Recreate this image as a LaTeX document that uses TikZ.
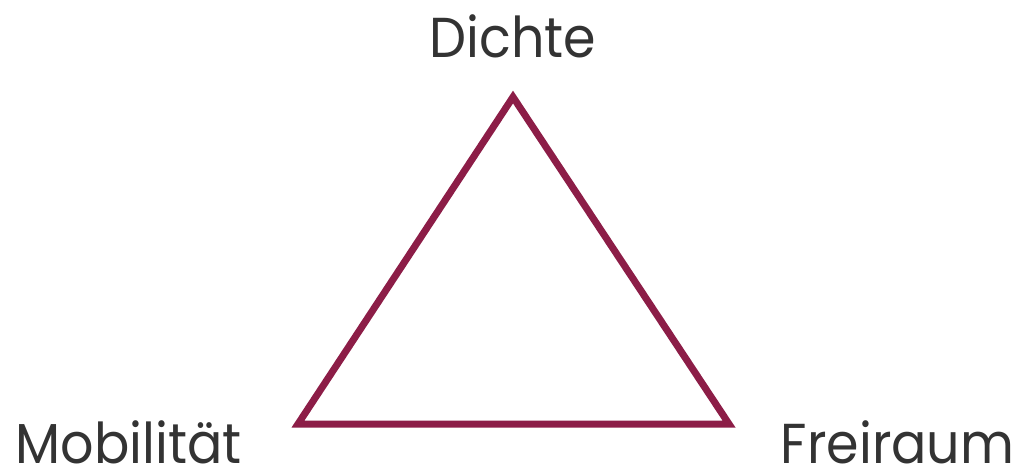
\documentclass[tikz,border=0pt]{standalone}
\usepackage{fontspec}
\setmainfont{Poppins}
\usetikzlibrary{positioning}
\definecolor{mymaroon}{HTML}{8C1D47}
\definecolor{mygray}{HTML}{333333}
\newcommand{\cornertext}[1]{\scalebox{0.93}[1]{#1}}
\tikzset{
	cornernode/.style={
			text=mygray,
			font=\fontsize{16}{19}\selectfont,
			inner sep=0pt,
			anchor=base
		},
	triedge/.style={
			draw=mymaroon,
			line width=0.7mm,
			line join=miter
		}
}
\begin{document}
\begin{tikzpicture}[x=0.01cm, y=-0.01cm]
				\useasboundingbox (0,0) rectangle (1021,469);
				\coordinate (top) at (513,97);
				\coordinate (bl) at (298,424);
				\coordinate (br) at (729,424);

				\node[cornernode] at (513,57) (dichte) {\cornertext{Dichte}};
				\node[cornernode, anchor=base west] at (15,463) (mobil) {\cornertext{Mobilität}};
				\node[cornernode, anchor=base east] at (1015,463) (frei) {\cornertext{Freiraum}};

				\draw[triedge] (top) -- (br) -- (bl) -- cycle;
			\end{tikzpicture}
\end{document}
